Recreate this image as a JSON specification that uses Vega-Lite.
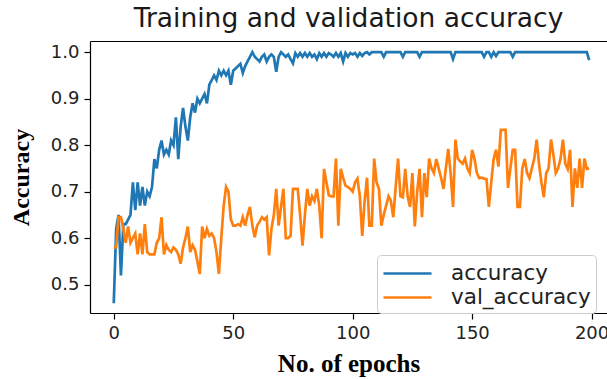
{
 "$schema": "https://vega.github.io/schema/vega-lite/v6.json",
 "autosize": {"type": "none"},
 "padding": {"left": 90, "top": 41, "right": 0, "bottom": 66},
 "width": 517,
 "height": 272,
 "background": "white",
 "title": {"text": "Training and validation accuracy", "font": "DejaVu Sans", "fontSize": 26.5, "fontWeight": "normal", "color": "#1a1a1a", "anchor": "middle", "offset": 9},
 "data": {"values": [
{"epoch":0,"accuracy":0.46,"val_accuracy":0.58},
{"epoch":1,"accuracy":0.62,"val_accuracy":0.58},
{"epoch":2,"accuracy":0.65,"val_accuracy":0.645},
{"epoch":3,"accuracy":0.52,"val_accuracy":0.645},
{"epoch":4,"accuracy":0.63,"val_accuracy":0.62},
{"epoch":5,"accuracy":0.63,"val_accuracy":0.59},
{"epoch":6,"accuracy":0.64,"val_accuracy":0.625},
{"epoch":7,"accuracy":0.65,"val_accuracy":0.59},
{"epoch":8,"accuracy":0.72,"val_accuracy":0.60},
{"epoch":9,"accuracy":0.66,"val_accuracy":0.61},
{"epoch":10,"accuracy":0.72,"val_accuracy":0.565},
{"epoch":11,"accuracy":0.67,"val_accuracy":0.61},
{"epoch":12,"accuracy":0.71,"val_accuracy":0.565},
{"epoch":13,"accuracy":0.67,"val_accuracy":0.63},
{"epoch":14,"accuracy":0.70,"val_accuracy":0.57},
{"epoch":15,"accuracy":0.69,"val_accuracy":0.565},
{"epoch":16,"accuracy":0.71,"val_accuracy":0.565},
{"epoch":17,"accuracy":0.77,"val_accuracy":0.565},
{"epoch":18,"accuracy":0.75,"val_accuracy":0.59},
{"epoch":19,"accuracy":0.79,"val_accuracy":0.60},
{"epoch":20,"accuracy":0.81,"val_accuracy":0.645},
{"epoch":21,"accuracy":0.78,"val_accuracy":0.565},
{"epoch":22,"accuracy":0.79,"val_accuracy":0.585},
{"epoch":23,"accuracy":0.78,"val_accuracy":0.575},
{"epoch":24,"accuracy":0.81,"val_accuracy":0.57},
{"epoch":25,"accuracy":0.80,"val_accuracy":0.58},
{"epoch":26,"accuracy":0.86,"val_accuracy":0.575},
{"epoch":27,"accuracy":0.77,"val_accuracy":0.565},
{"epoch":28,"accuracy":0.84,"val_accuracy":0.545},
{"epoch":29,"accuracy":0.88,"val_accuracy":0.58},
{"epoch":30,"accuracy":0.84,"val_accuracy":0.60},
{"epoch":31,"accuracy":0.81,"val_accuracy":0.625},
{"epoch":32,"accuracy":0.86,"val_accuracy":0.57},
{"epoch":33,"accuracy":0.89,"val_accuracy":0.585},
{"epoch":34,"accuracy":0.87,"val_accuracy":0.575},
{"epoch":35,"accuracy":0.90,"val_accuracy":0.55},
{"epoch":36,"accuracy":0.89,"val_accuracy":0.523},
{"epoch":37,"accuracy":0.90,"val_accuracy":0.625},
{"epoch":38,"accuracy":0.91,"val_accuracy":0.60},
{"epoch":39,"accuracy":0.89,"val_accuracy":0.62},
{"epoch":40,"accuracy":0.93,"val_accuracy":0.605},
{"epoch":41,"accuracy":0.94,"val_accuracy":0.61},
{"epoch":42,"accuracy":0.95,"val_accuracy":0.60},
{"epoch":43,"accuracy":0.94,"val_accuracy":0.57},
{"epoch":44,"accuracy":0.96,"val_accuracy":0.523},
{"epoch":45,"accuracy":0.95,"val_accuracy":0.60},
{"epoch":46,"accuracy":0.96,"val_accuracy":0.67},
{"epoch":47,"accuracy":0.95,"val_accuracy":0.71},
{"epoch":48,"accuracy":0.96,"val_accuracy":0.70},
{"epoch":49,"accuracy":0.93,"val_accuracy":0.64},
{"epoch":50,"accuracy":0.96,"val_accuracy":0.627},
{"epoch":51,"accuracy":0.965,"val_accuracy":0.627},
{"epoch":52,"accuracy":0.97,"val_accuracy":0.63},
{"epoch":53,"accuracy":0.975,"val_accuracy":0.627},
{"epoch":54,"accuracy":0.955,"val_accuracy":0.645},
{"epoch":55,"accuracy":0.97,"val_accuracy":0.627},
{"epoch":56,"accuracy":0.98,"val_accuracy":0.65},
{"epoch":57,"accuracy":0.99,"val_accuracy":0.667},
{"epoch":58,"accuracy":1.0,"val_accuracy":0.627},
{"epoch":59,"accuracy":0.99,"val_accuracy":0.602},
{"epoch":60,"accuracy":0.985,"val_accuracy":0.627},
{"epoch":61,"accuracy":0.98,"val_accuracy":0.635},
{"epoch":62,"accuracy":0.99,"val_accuracy":0.645},
{"epoch":63,"accuracy":0.995,"val_accuracy":0.64},
{"epoch":64,"accuracy":0.98,"val_accuracy":0.645},
{"epoch":65,"accuracy":0.99,"val_accuracy":0.563},
{"epoch":66,"accuracy":0.995,"val_accuracy":0.62},
{"epoch":67,"accuracy":0.99,"val_accuracy":0.65},
{"epoch":68,"accuracy":0.958,"val_accuracy":0.706},
{"epoch":69,"accuracy":0.99,"val_accuracy":0.627},
{"epoch":70,"accuracy":1.0,"val_accuracy":0.667},
{"epoch":71,"accuracy":0.995,"val_accuracy":0.706},
{"epoch":72,"accuracy":0.99,"val_accuracy":0.60},
{"epoch":73,"accuracy":0.995,"val_accuracy":0.60},
{"epoch":74,"accuracy":0.985,"val_accuracy":0.605},
{"epoch":75,"accuracy":0.976,"val_accuracy":0.706},
{"epoch":76,"accuracy":0.998,"val_accuracy":0.706},
{"epoch":77,"accuracy":0.99,"val_accuracy":0.706},
{"epoch":78,"accuracy":0.998,"val_accuracy":0.65},
{"epoch":79,"accuracy":0.99,"val_accuracy":0.584},
{"epoch":80,"accuracy":0.998,"val_accuracy":0.65},
{"epoch":81,"accuracy":0.99,"val_accuracy":0.706},
{"epoch":82,"accuracy":0.998,"val_accuracy":0.67},
{"epoch":83,"accuracy":0.99,"val_accuracy":0.69},
{"epoch":84,"accuracy":0.995,"val_accuracy":0.68},
{"epoch":85,"accuracy":0.985,"val_accuracy":0.706},
{"epoch":86,"accuracy":0.998,"val_accuracy":0.67},
{"epoch":87,"accuracy":0.99,"val_accuracy":0.60},
{"epoch":88,"accuracy":0.998,"val_accuracy":0.749},
{"epoch":89,"accuracy":0.99,"val_accuracy":0.72},
{"epoch":90,"accuracy":0.998,"val_accuracy":0.692},
{"epoch":91,"accuracy":0.995,"val_accuracy":0.69},
{"epoch":92,"accuracy":0.99,"val_accuracy":0.69},
{"epoch":93,"accuracy":0.998,"val_accuracy":0.771},
{"epoch":94,"accuracy":0.99,"val_accuracy":0.627},
{"epoch":95,"accuracy":0.998,"val_accuracy":0.749},
{"epoch":96,"accuracy":0.98,"val_accuracy":0.73},
{"epoch":97,"accuracy":0.998,"val_accuracy":0.713},
{"epoch":98,"accuracy":0.99,"val_accuracy":0.71},
{"epoch":99,"accuracy":0.998,"val_accuracy":0.706},
{"epoch":100,"accuracy":0.995,"val_accuracy":0.70},
{"epoch":101,"accuracy":0.998,"val_accuracy":0.72},
{"epoch":102,"accuracy":0.99,"val_accuracy":0.728},
{"epoch":103,"accuracy":0.998,"val_accuracy":0.69},
{"epoch":104,"accuracy":0.992,"val_accuracy":0.605},
{"epoch":105,"accuracy":0.998,"val_accuracy":0.68},
{"epoch":106,"accuracy":1.0,"val_accuracy":0.73},
{"epoch":107,"accuracy":0.995,"val_accuracy":0.627},
{"epoch":108,"accuracy":1.0,"val_accuracy":0.627},
{"epoch":109,"accuracy":1.0,"val_accuracy":0.771},
{"epoch":110,"accuracy":1.0,"val_accuracy":0.72},
{"epoch":111,"accuracy":1.0,"val_accuracy":0.706},
{"epoch":112,"accuracy":1.0,"val_accuracy":0.627},
{"epoch":113,"accuracy":0.99,"val_accuracy":0.65},
{"epoch":114,"accuracy":1.0,"val_accuracy":0.67},
{"epoch":115,"accuracy":1.0,"val_accuracy":0.69},
{"epoch":116,"accuracy":1.0,"val_accuracy":0.68},
{"epoch":117,"accuracy":1.0,"val_accuracy":0.645},
{"epoch":118,"accuracy":1.0,"val_accuracy":0.71},
{"epoch":119,"accuracy":1.0,"val_accuracy":0.771},
{"epoch":120,"accuracy":1.0,"val_accuracy":0.69},
{"epoch":121,"accuracy":0.99,"val_accuracy":0.688},
{"epoch":122,"accuracy":1.0,"val_accuracy":0.749},
{"epoch":123,"accuracy":1.0,"val_accuracy":0.69},
{"epoch":124,"accuracy":1.0,"val_accuracy":0.667},
{"epoch":125,"accuracy":1.0,"val_accuracy":0.74},
{"epoch":126,"accuracy":1.0,"val_accuracy":0.625},
{"epoch":127,"accuracy":1.0,"val_accuracy":0.70},
{"epoch":128,"accuracy":0.99,"val_accuracy":0.749},
{"epoch":129,"accuracy":1.0,"val_accuracy":0.645},
{"epoch":130,"accuracy":1.0,"val_accuracy":0.74},
{"epoch":131,"accuracy":1.0,"val_accuracy":0.688},
{"epoch":132,"accuracy":1.0,"val_accuracy":0.771},
{"epoch":133,"accuracy":1.0,"val_accuracy":0.75},
{"epoch":134,"accuracy":1.0,"val_accuracy":0.74},
{"epoch":135,"accuracy":1.0,"val_accuracy":0.77},
{"epoch":136,"accuracy":1.0,"val_accuracy":0.75},
{"epoch":137,"accuracy":1.0,"val_accuracy":0.73},
{"epoch":138,"accuracy":1.0,"val_accuracy":0.706},
{"epoch":139,"accuracy":1.0,"val_accuracy":0.75},
{"epoch":140,"accuracy":1.0,"val_accuracy":0.792},
{"epoch":141,"accuracy":1.0,"val_accuracy":0.74},
{"epoch":142,"accuracy":0.985,"val_accuracy":0.667},
{"epoch":143,"accuracy":1.0,"val_accuracy":0.812},
{"epoch":144,"accuracy":1.0,"val_accuracy":0.771},
{"epoch":145,"accuracy":1.0,"val_accuracy":0.765},
{"epoch":146,"accuracy":1.0,"val_accuracy":0.76},
{"epoch":147,"accuracy":1.0,"val_accuracy":0.771},
{"epoch":148,"accuracy":1.0,"val_accuracy":0.75},
{"epoch":149,"accuracy":1.0,"val_accuracy":0.74},
{"epoch":150,"accuracy":1.0,"val_accuracy":0.79},
{"epoch":151,"accuracy":1.0,"val_accuracy":0.77},
{"epoch":152,"accuracy":1.0,"val_accuracy":0.74},
{"epoch":153,"accuracy":1.0,"val_accuracy":0.729},
{"epoch":154,"accuracy":1.0,"val_accuracy":0.73},
{"epoch":155,"accuracy":0.99,"val_accuracy":0.728},
{"epoch":156,"accuracy":1.0,"val_accuracy":0.727},
{"epoch":157,"accuracy":1.0,"val_accuracy":0.667},
{"epoch":158,"accuracy":0.99,"val_accuracy":0.72},
{"epoch":159,"accuracy":1.0,"val_accuracy":0.77},
{"epoch":160,"accuracy":0.992,"val_accuracy":0.79},
{"epoch":161,"accuracy":1.0,"val_accuracy":0.754},
{"epoch":162,"accuracy":1.0,"val_accuracy":0.833},
{"epoch":163,"accuracy":1.0,"val_accuracy":0.833},
{"epoch":164,"accuracy":1.0,"val_accuracy":0.833},
{"epoch":165,"accuracy":1.0,"val_accuracy":0.708},
{"epoch":166,"accuracy":1.0,"val_accuracy":0.75},
{"epoch":167,"accuracy":0.99,"val_accuracy":0.79},
{"epoch":168,"accuracy":1.0,"val_accuracy":0.79},
{"epoch":169,"accuracy":1.0,"val_accuracy":0.667},
{"epoch":170,"accuracy":1.0,"val_accuracy":0.667},
{"epoch":171,"accuracy":1.0,"val_accuracy":0.75},
{"epoch":172,"accuracy":1.0,"val_accuracy":0.77},
{"epoch":173,"accuracy":1.0,"val_accuracy":0.74},
{"epoch":174,"accuracy":1.0,"val_accuracy":0.729},
{"epoch":175,"accuracy":1.0,"val_accuracy":0.75},
{"epoch":176,"accuracy":1.0,"val_accuracy":0.771},
{"epoch":177,"accuracy":1.0,"val_accuracy":0.812},
{"epoch":178,"accuracy":1.0,"val_accuracy":0.76},
{"epoch":179,"accuracy":1.0,"val_accuracy":0.72},
{"epoch":180,"accuracy":1.0,"val_accuracy":0.688},
{"epoch":181,"accuracy":1.0,"val_accuracy":0.74},
{"epoch":182,"accuracy":1.0,"val_accuracy":0.75},
{"epoch":183,"accuracy":1.0,"val_accuracy":0.812},
{"epoch":184,"accuracy":1.0,"val_accuracy":0.78},
{"epoch":185,"accuracy":1.0,"val_accuracy":0.74},
{"epoch":186,"accuracy":1.0,"val_accuracy":0.75},
{"epoch":187,"accuracy":1.0,"val_accuracy":0.771},
{"epoch":188,"accuracy":1.0,"val_accuracy":0.812},
{"epoch":189,"accuracy":1.0,"val_accuracy":0.76},
{"epoch":190,"accuracy":1.0,"val_accuracy":0.749},
{"epoch":191,"accuracy":1.0,"val_accuracy":0.79},
{"epoch":192,"accuracy":1.0,"val_accuracy":0.667},
{"epoch":193,"accuracy":1.0,"val_accuracy":0.75},
{"epoch":194,"accuracy":1.0,"val_accuracy":0.708},
{"epoch":195,"accuracy":1.0,"val_accuracy":0.771},
{"epoch":196,"accuracy":1.0,"val_accuracy":0.708},
{"epoch":197,"accuracy":1.0,"val_accuracy":0.771},
{"epoch":198,"accuracy":1.0,"val_accuracy":0.749},
{"epoch":199,"accuracy":0.983,"val_accuracy":0.75}
 ]},
 "transform": [{"fold": ["accuracy", "val_accuracy"], "as": ["series", "value"]}],
 "layer": [
  {
   "mark": {"type": "line", "strokeWidth": 2.7, "clip": true},
   "encoding": {
    "x": {"field": "epoch", "type": "quantitative",
          "scale": {"domain": [-9.95, 206.45], "nice": false, "zero": false},
          "axis": {"orient": "bottom", "values": [0, 50, 100, 150, 200], "title": "No. of epochs", "grid": false,
                   "labelFont": "DejaVu Sans", "labelFontSize": 18, "labelColor": "#222", "labelPadding": 5,
                   "tickColor": "#000", "tickSize": 6, "tickWidth": 1.2,
                   "domain": true, "domainColor": "#000", "domainWidth": 1.2,
                   "titleFont": "Liberation Serif", "titleFontSize": 25, "titleFontWeight": "bold", "titleColor": "#000", "titlePadding": 9}},
    "y": {"field": "value", "type": "quantitative",
          "scale": {"domain": [0.439, 1.024], "nice": false, "zero": false},
          "axis": {"values": [0.5, 0.6, 0.7, 0.8, 0.9, 1.0], "format": ".1f", "title": "Accuracy", "grid": false,
                   "labelFont": "DejaVu Sans", "labelFontSize": 18, "labelColor": "#222", "labelPadding": 5,
                   "tickColor": "#000", "tickSize": 6, "tickWidth": 1.2,
                   "domain": true, "domainColor": "#000", "domainWidth": 1.2,
                   "titleFont": "Liberation Serif", "titleFontSize": 24, "titleFontWeight": "bold", "titleColor": "#000", "titlePadding": 17}},
    "color": {"field": "series", "type": "nominal",
              "scale": {"domain": ["accuracy", "val_accuracy"], "range": ["#1f77b4", "#ff7f0e"]},
              "legend": {"orient": "none", "legendX": 287, "legendY": 214, "title": null,
                         "fillColor": "white", "strokeColor": "#cccccc", "cornerRadius": 4, "padding": 5,
                         "symbolType": "M-1,0H3", "symbolSize": 576, "symbolStrokeWidth": 2.7,
                         "labelFont": "DejaVu Sans", "labelFontSize": 21.5, "labelColor": "#222", "labelOffset": 42,
                         "rowPadding": 0}}
   }
  },
  {
   "mark": {"type": "rule", "opacity": 0},
   "encoding": {
    "x": {"field": "epoch", "type": "quantitative",
          "axis": {"orient": "top", "labels": false, "ticks": false, "title": null, "grid": false,
                   "domain": true, "domainColor": "#000", "domainWidth": 1.2}}
   }
  }
 ],
 "resolve": {"axis": {"x": "independent"}},
 "config": {"view": {"stroke": null}, "font": "DejaVu Sans"}
}
